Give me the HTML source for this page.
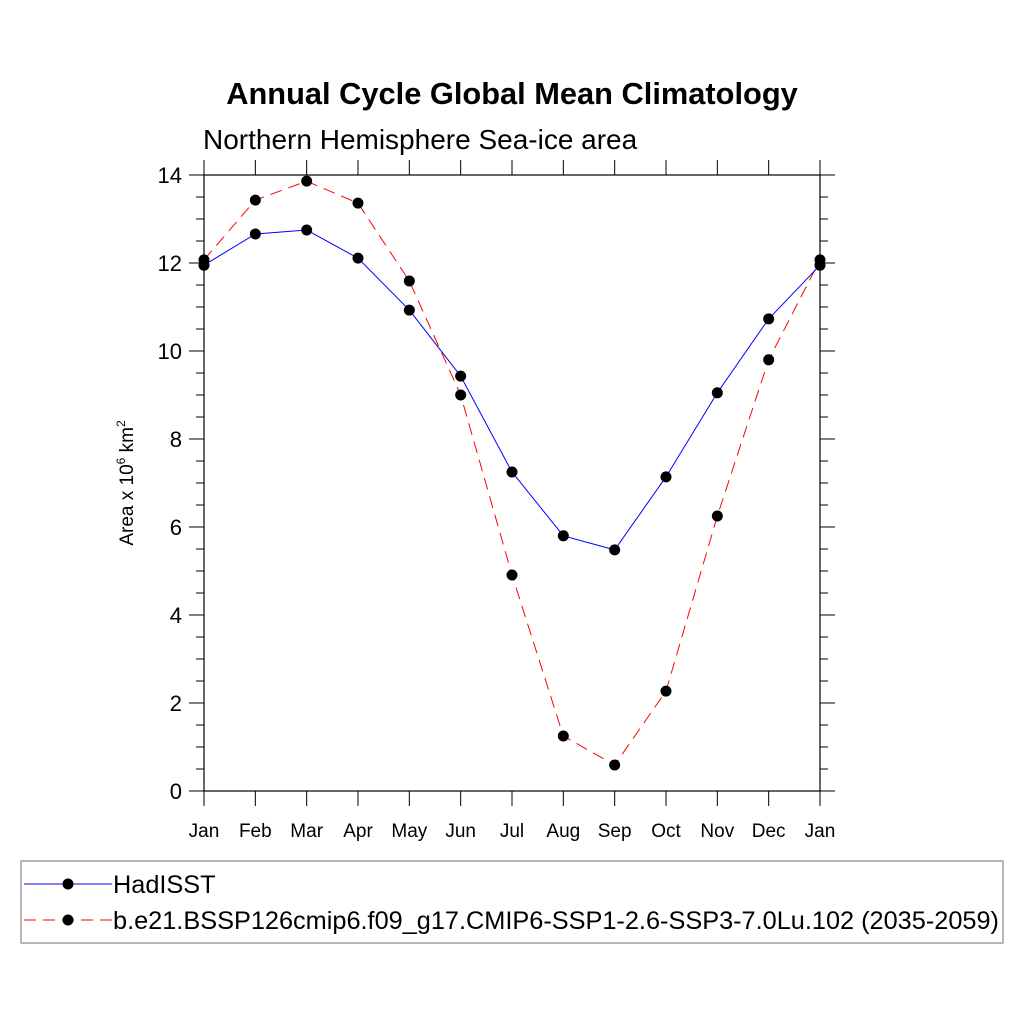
<!DOCTYPE html>
<html><head><meta charset="utf-8"><style>
body{margin:0;background:#fff}
svg text{font-family:"Liberation Sans",sans-serif}
</style></head><body>
<svg id="chart" width="1024" height="1024" viewBox="0 0 1024 1024">
<rect width="1024" height="1024" fill="#fff"/>
<text x="512" y="104" text-anchor="middle" font-size="30.8" font-weight="bold">Annual Cycle Global Mean Climatology</text>
<text x="203" y="149" font-size="28">Northern Hemisphere Sea-ice area</text>
<text transform="translate(133,483) rotate(-90)" text-anchor="middle" font-size="19">Area x 10<tspan dy="-8" font-size="12">6</tspan><tspan dy="8"> km</tspan><tspan dy="-8" font-size="12">2</tspan></text>
<g id="axes"></g>
<g id="series"></g>
<g>
<rect x="21" y="861" width="982" height="82" fill="none" stroke="#888" stroke-width="1.2"/>
<line x1="24" y1="884" x2="112" y2="884" stroke="#00f" stroke-width="1"/>
<circle cx="68" cy="884" r="5.5" fill="#000"/>
<text x="113" y="893" font-size="25.3">HadISST</text>
<line x1="24" y1="920" x2="112" y2="920" stroke="#f00" stroke-width="1" stroke-dasharray="12,7"/>
<circle cx="68" cy="920" r="5.5" fill="#000"/>
<text x="113" y="929" font-size="25.3">b.e21.BSSP126cmip6.f09_g17.CMIP6-SSP1-2.6-SSP3-7.0Lu.102 (2035-2059)</text>
</g>
</svg>
<script>
const months=["Jan","Feb","Mar","Apr","May","Jun","Jul","Aug","Sep","Oct","Nov","Dec","Jan"];
const hadisst=[11.95,12.66,12.75,12.11,10.93,9.43,7.25,5.8,5.48,7.14,9.05,10.73,11.95];
const model=[12.07,13.43,13.86,13.36,11.59,9.0,4.91,1.25,0.59,2.27,6.25,9.8,12.07];
const yTicks=[0,2,4,6,8,10,12,14];
const X0=204,X1=820,Y0=791,Y1=175;
const x=i=>X0+(X1-X0)*i/12;
const y=v=>Y0-(Y0-Y1)*v/14;
const NS="http://www.w3.org/2000/svg";
const axes=document.getElementById('axes'),ser=document.getElementById('series');
function mk(t,a,p){const e=document.createElementNS(NS,t);for(const k in a)e.setAttribute(k,a[k]);p.appendChild(e);return e;}
const fr=mk('rect',{x:X0,y:Y1,width:X1-X0,height:Y0-Y1,fill:'none',stroke:'#000','stroke-width':1.2},axes);


for(let v=0;v<=14;v+=0.5){const L=(v%2===0)?15:8;const yy=y(v);
mk('line',{x1:X0-L,y1:yy,x2:X0,y2:yy,stroke:'#000'},axes);
mk('line',{x1:X1,y1:yy,x2:X1+L,y2:yy,stroke:'#000'},axes);}
yTicks.forEach(v=>{const t=mk('text',{x:X0-22,y:y(v)+8,'text-anchor':'end','font-size':22},axes);t.textContent=v;

});
months.forEach((m,i)=>{const xx=x(i);
mk('line',{x1:xx,y1:Y0,x2:xx,y2:Y0+15,stroke:'#000'},axes);
mk('line',{x1:xx,y1:Y1-15,x2:xx,y2:Y1,stroke:'#000'},axes);
const t=mk('text',{x:xx,y:837,'text-anchor':'middle','font-size':19},axes);t.textContent=m;

});
function draw(d,col,dash,name){
const pl=mk('polyline',{points:d.map((v,i)=>x(i)+','+y(v)).join(' '),fill:'none',stroke:col,'stroke-width':1,'stroke-dasharray':dash},ser);


d.forEach((v,i)=>{const c=mk('circle',{cx:x(i),cy:y(v),r:5.5,fill:'#000'},ser);

});}
draw(model,'#f00','12,7','model');
draw(hadisst,'#00f','none','hadisst');
</script>
</body></html>
